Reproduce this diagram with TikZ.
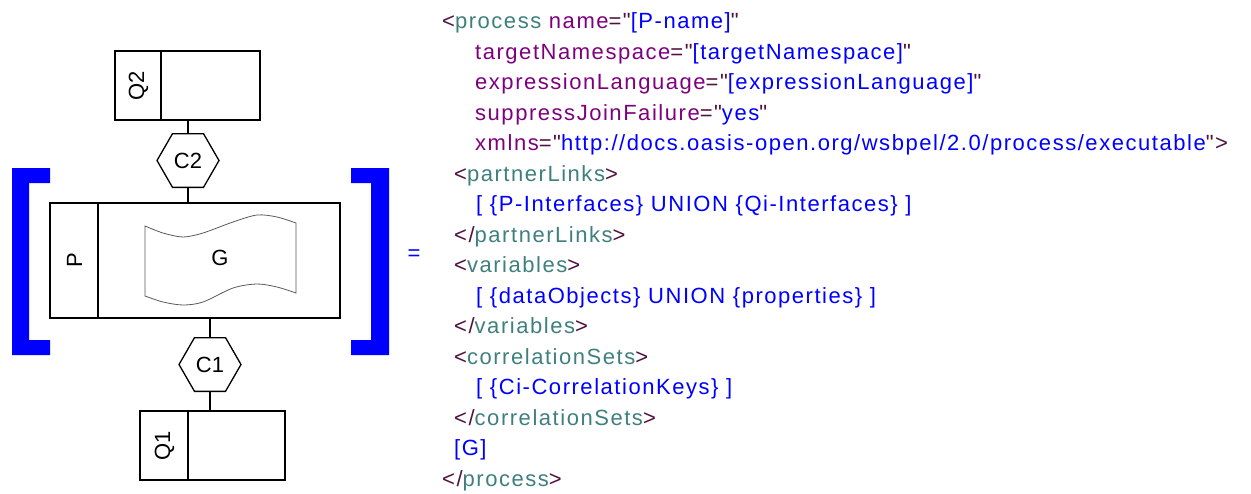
\documentclass[tikz,border=0pt]{standalone}
\usepackage{fontspec}
\setmainfont{Liberation Sans}
\newfontfamily\xmlfont[LetterSpace=7]{Liberation Sans}
\usetikzlibrary{shapes.geometric}
\definecolor{xbr}{HTML}{501040}
\definecolor{xel}{HTML}{3F7F7F}
\definecolor{xat}{HTML}{7F007F}
\definecolor{xval}{HTML}{0000FF}
\newcommand\xmlB[1]{\textcolor{xbr}{#1}}
\newcommand\xmlE[1]{\textcolor{xel}{#1}}
\newcommand\xmlA[1]{\textcolor{xat}{#1}}
\newcommand\xmlV[1]{\textcolor{xval}{#1}}
\begin{document}
\begin{tikzpicture}[x=1pt,y=-1pt,
  box/.style={draw, line width=2pt, rectangle, inner sep=0pt},
  divider/.style={line width=2pt},
  hexa/.style={draw, fill=white, line width=1.3pt, regular polygon, regular polygon sides=6, minimum size=62pt, inner sep=0pt, font=\fontsize{22}{26}\selectfont},
  lbl/.style={font=\fontsize{22}{26}\selectfont, inner sep=0pt},
  conn/.style={line width=1.5pt},
  wave/.style={draw=black!65, line width=0.8pt},
  xml/.style={anchor=base west, inner sep=0pt, font=\xmlfont\fontsize{22}{26}\selectfont},
  brk/.style={fill=xval, draw=none}]
\useasboundingbox (0,0) rectangle (1251,493);

% boxes
\node[box, minimum width=145pt, minimum height=69pt] (q2) at (187.5,85.5) {};
\draw[divider] ([xshift=47pt]q2.north west) -- ([xshift=47pt]q2.south west);
\node[lbl, rotate=90] (q2l) at (138.5,85.5) {Q2};

\node[box, minimum width=290pt, minimum height=115pt] (p) at (195,260.5) {};
\draw[divider] ([xshift=49pt]p.north west) -- ([xshift=49pt]p.south west);
\node[lbl, rotate=90] (pl) at (74.5,260.5) {P};

\node[box, minimum width=145pt, minimum height=69pt] (q1) at (212.5,445.5) {};
\draw[divider] ([xshift=49pt]q1.north west) -- ([xshift=49pt]q1.south west);
\node[lbl, rotate=90] (q1l) at (164.5,445.5) {Q1};

% hexagons
\node[hexa] (c2) at (188,160.5) {C2};
\node[hexa] (c1) at (210,364.5) {C1};

% connectors
\draw[conn] (c2.north |- q2.south) -- (c2.north);
\draw[conn] (c2.south) -- (c2.south |- p.north);
\draw[conn] (c1.north |- p.south) -- (c1.north);
\draw[conn] (c1.south) -- (c1.south |- q1.north);

% wave G
\draw[wave] plot[smooth] coordinates {(145,226) (163,233) (183,237) (203,233) (233,222) (257,215) (277,217) (296,223)}
  -- plot[smooth] coordinates {(296,293) (277,287) (257,284) (233,288) (203,302) (183,305) (163,302) (145,296)} -- cycle;
\node[lbl] (g) at (220,258) {G};

% brackets
\fill[brk] (12,168) -- (50,168) -- (50,183) -- (29,183) -- (29,340) -- (50,340) -- (50,355) -- (12,355) -- cycle;
\fill[brk] (389,168) -- (351,168) -- (351,183) -- (371,183) -- (371,340) -- (351,340) -- (351,355) -- (389,355) -- cycle;
\node[lbl, text=xval] (eq) at (414,255) {=};

% XML text
\node[xml] (l0) at (442,28.5) {\xmlB{<}\xmlE{process} \xmlA{name}\xmlB{="}\xmlV{[P-name]}\xmlB{"}};
\node[xml] (l1) at (475,59) {\xmlA{targetNamespace}\xmlB{="}\xmlV{[targetNamespace]}\xmlB{"}};
\node[xml] (l2) at (475,89.5) {\xmlA{expressionLanguage}\xmlB{="}\xmlV{[expressionLanguage]}\xmlB{"}};
\node[xml] (l3) at (475,120) {\xmlA{suppressJoinFailure}\xmlB{="}\xmlV{yes}\xmlB{"}};
\node[xml] (l4) at (475,150.5) {\xmlA{xmlns}\xmlB{="}\xmlV{http://docs.oasis-open.org/wsbpel/2.0/process/executable}\xmlB{">}};
\node[xml] (l5) at (454,181) {\xmlB{<}\xmlE{partnerLinks}\xmlB{>}};
\node[xml] (l6) at (476,211.5) {\xmlV{[ \{P-Interfaces\} UNION \{Qi-Interfaces\} ]}};
\node[xml] (l7) at (454,242) {\xmlB{</}\xmlE{partnerLinks}\xmlB{>}};
\node[xml] (l8) at (454,272.5) {\xmlB{<}\xmlE{variables}\xmlB{>}};
\node[xml] (l9) at (476,303) {\xmlV{[ \{dataObjects\} UNION \{properties\} ]}};
\node[xml] (l10) at (454,333.5) {\xmlB{</}\xmlE{variables}\xmlB{>}};
\node[xml] (l11) at (454,364) {\xmlB{<}\xmlE{correlationSets}\xmlB{>}};
\node[xml] (l12) at (476,394.5) {\xmlV{[ \{Ci-CorrelationKeys\} ]}};
\node[xml] (l13) at (454,425) {\xmlB{</}\xmlE{correlationSets}\xmlB{>}};
\node[xml] (l14) at (454,455.5) {\xmlV{[G]}};
\node[xml] (l15) at (442,486) {\xmlB{</}\xmlE{process}\xmlB{>}};
\end{tikzpicture}
\end{document}
